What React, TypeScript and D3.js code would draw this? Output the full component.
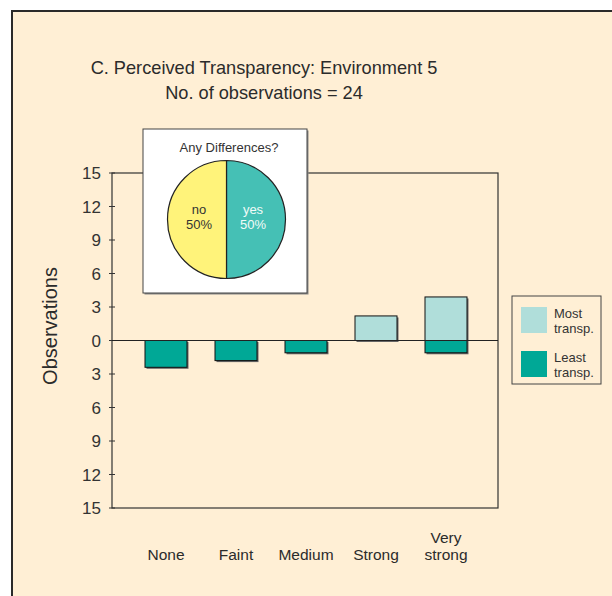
import React from "react";
import * as d3 from "d3";

const categories = ["None", "Faint", "Medium", "Strong", "Very strong"];
const mostTransp = [0, 0, 0, 2.2, 3.9];
const leastTransp = [2.4, 1.8, 1.1, 0, 1.1];
const yTicks = [-15, -12, -9, -6, -3, 0, 3, 6, 9, 12, 15];
const pieLabels = ["yes", "no"];
const pieValues = [50, 50];
const legendLabels = [["Most", "transp."], ["Least", "transp."]];

const BG = "#FFEFD5";
const MOST = "#B0DEDA";
const LEAST = "#00A896";
const PIE_YES = "#45C0B5";
const PIE_NO = "#FFF37A";
const TXT = "#2b2b2b";
const FONT = "'Liberation Sans', Arial, sans-serif";

export default function App() {
  const x = d3.scaleBand<string>().domain(categories).range([131, 481]).paddingInner(0.4).paddingOuter(0.2);
  const y = d3.scaleLinear().domain([-15, 15]).range([508, 173]);
  const plotL = 112, plotR = 498;

  const pie = d3.pie<number>().sort(null).startAngle(0).endAngle(2 * Math.PI)(pieValues);
  const arc = d3.arc<d3.PieArcDatum<number>>().innerRadius(0).outerRadius(59);
  const pcx = 226.5, pcy = 219.5;

  const bars: { cat: string; y0: number; y1: number; fill: string }[] = [];
  categories.forEach((c, i) => {
    if (mostTransp[i] > 0) bars.push({ cat: c, y0: 0, y1: mostTransp[i], fill: MOST });
    if (leastTransp[i] > 0) bars.push({ cat: c, y0: -leastTransp[i], y1: 0, fill: LEAST });
  });

  return (
    <svg width={612} height={596} style={{ position: "absolute", left: 0, top: 0 }} fontFamily={FONT}>
      <rect x={0} y={0} width={612} height={596} fill="#fff" />
      <rect x={12} y={11} width={620} height={600} fill={BG} stroke="#2a2a2a" strokeWidth={2} />

      <text x={264} y={74} textAnchor="middle" fontSize={18.2} fill={TXT}>C. Perceived Transparency: Environment 5</text>
      <text x={264} y={99} textAnchor="middle" fontSize={18.2} fill={TXT}>No. of observations = 24</text>

      {/* plot frame */}
      <rect x={plotL} y={y(15)} width={plotR - plotL} height={y(-15) - y(15)} fill="none" stroke="#333" strokeWidth={1.2} />
      {yTicks.map((t) => (
        <g key={t}>
          <line x1={plotL - 3} x2={plotL + 3} y1={y(t)} y2={y(t)} stroke="#333" strokeWidth={1} />
          <text x={101} y={y(t) + 6} textAnchor="end" fontSize={17} fill="#333">{Math.abs(t)}</text>
        </g>
      ))}

      {/* bars */}
      {bars.map((b, i) => {
        const bx = x(b.cat)!;
        const by = y(b.y1);
        const bh = y(b.y0) - y(b.y1);
        return (
          <g key={i}>
            <rect x={bx + 1.5} y={by + 1.5} width={x.bandwidth()} height={bh} fill="#666" />
            <rect x={bx} y={by} width={x.bandwidth()} height={bh} fill={b.fill} stroke="#111" strokeWidth={1} />
          </g>
        );
      })}
      <line x1={plotL} x2={plotR} y1={y(0)} y2={y(0)} stroke="#222" strokeWidth={1.2} />

      {/* x labels */}
      {categories.map((c) => {
        const cx = x(c)! + x.bandwidth() / 2;
        const parts = c === "Very strong" ? ["Very", "strong"] : [c];
        return (
          <text key={c} x={cx} textAnchor="middle" fontSize={15.5} fill={TXT}>
            {parts.map((p, j) => (
              <tspan key={j} x={cx} y={560 - (parts.length - 1 - j) * 17}>{p}</tspan>
            ))}
          </text>
        );
      })}

      <text transform="translate(57,326) rotate(-90)" textAnchor="middle" fontSize={20} fill={TXT}>Observations</text>

      {/* pie inset */}
      <rect x={144.5} y={130.5} width={164} height={164} fill="#888" />
      <rect x={143} y={129} width={164} height={164} fill="#fff" stroke="#444" strokeWidth={1} />
      <text x={229} y={152} textAnchor="middle" fontSize={13} fill="#333">Any Differences?</text>
      <g transform={`translate(${pcx},${pcy})`}>
        {pie.map((p, i) => (
          <path key={i} d={arc(p)!} fill={i === 0 ? PIE_YES : PIE_NO} stroke="#222" strokeWidth={1.2} />
        ))}
      </g>
      <text x={199} y={214} textAnchor="middle" fontSize={13} fill="#333">{pieLabels[1]}</text>
      <text x={199} y={229} textAnchor="middle" fontSize={13} fill="#333">{pieValues[1]}%</text>
      <text x={253} y={214} textAnchor="middle" fontSize={13} fill="#F2FBF8">{pieLabels[0]}</text>
      <text x={253} y={229} textAnchor="middle" fontSize={13} fill="#F2FBF8">{pieValues[0]}%</text>

      {/* legend */}
      <rect x={512} y={296} width={89} height={88} fill={BG} stroke="#444" strokeWidth={1} />
      {legendLabels.map((l, i) => (
        <g key={i}>
          <rect x={521} y={307 + i * 44} width={26} height={26} fill={i === 0 ? MOST : LEAST} />
          <text x={554} y={318 + i * 44} fontSize={13} fill="#333">{l[0]}</text>
          <text x={554} y={333 + i * 44} fontSize={13} fill="#333">{l[1]}</text>
        </g>
      ))}
    </svg>
  );
}
